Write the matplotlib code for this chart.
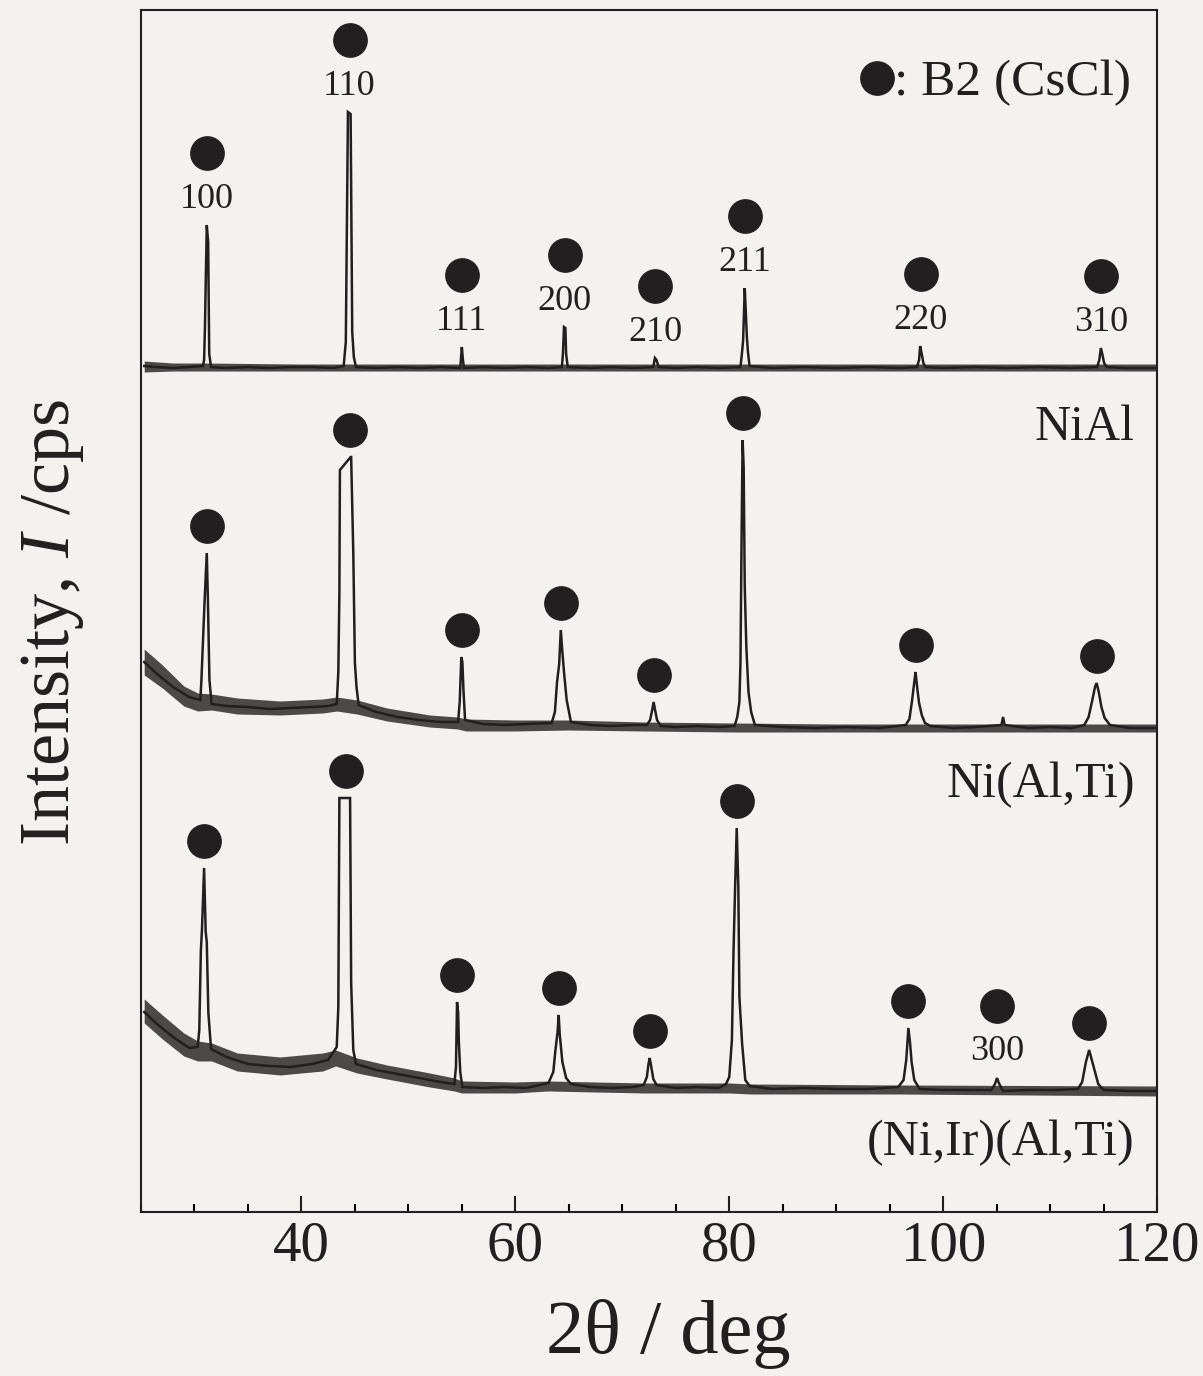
import numpy as np
import matplotlib
matplotlib.use("Agg")
import matplotlib.pyplot as plt
from matplotlib.ticker import MultipleLocator

plt.rcParams["font.family"] = "Liberation Serif"
plt.rcParams["mathtext.fontset"] = "custom"
plt.rcParams["mathtext.rm"] = "Liberation Serif"
plt.rcParams["mathtext.it"] = "Liberation Serif:italic"

# XRD traces, (2theta, intensity) with the patterns stacked on one shared axis
nial_trace = [
    (25.3, 846), (26.5, 845), (28.0, 844), (29.5, 845), (30.8, 846), (30.9, 852),
    (30.98, 885), (31.15, 987), (31.28, 970), (31.38, 858), (31.55, 845),
    (33.0, 844), (35.0, 845), (37.0, 844), (39.0, 845), (41.0, 845), (43.0, 844),
    (43.95, 846), (44.15, 870), (44.35, 1100), (44.6, 1098), (44.75, 880),
    (44.9, 855), (45.1, 845), (47.0, 844), (49.0, 845), (51.0, 844), (53.0, 845),
    (54.85, 844), (54.95, 858), (55.0, 865), (55.1, 852), (55.2, 844),
    (57.0, 845), (59.0, 844), (61.0, 845), (63.0, 844), (64.35, 845),
    (64.45, 858), (64.55, 885), (64.68, 884), (64.75, 858), (64.9, 845),
    (67.0, 844), (69.0, 845), (71.0, 844), (72.9, 845), (73.05, 854),
    (73.2, 852), (73.4, 845), (75.0, 844), (77.0, 845), (79.0, 844),
    (81.05, 845), (81.2, 860), (81.3, 872), (81.45, 924), (81.55, 900),
    (81.65, 875), (81.75, 860), (81.9, 846), (84.0, 844), (87.0, 845),
    (90.0, 844), (93.0, 845), (96.0, 844), (97.55, 845), (97.75, 852),
    (97.85, 866), (98.0, 858), (98.15, 849), (98.35, 845), (100.0, 844),
    (103.0, 845), (106.0, 844), (109.0, 845), (112.0, 844), (114.4, 845),
    (114.6, 852), (114.75, 864), (114.9, 857), (115.05, 849), (115.3, 845),
    (117.0, 844), (120.0, 844),
]

niat_trace = [
    (25.3, 550), (26.5, 538), (28.0, 525), (29.5, 515), (30.55, 512),
    (30.65, 532), (30.95, 612), (31.15, 659), (31.25, 615), (31.4, 532),
    (31.6, 508), (33.0, 506), (35.0, 505), (37.0, 503), (39.0, 504),
    (41.0, 505), (42.5, 506), (43.3, 508), (43.45, 540), (43.55, 620),
    (43.6, 742), (44.6, 755), (44.65, 755), (44.85, 659), (45.0, 549),
    (45.15, 525), (45.35, 507), (47.0, 500), (49.0, 495), (51.0, 492),
    (53.0, 490), (54.65, 490), (54.8, 510), (54.95, 555), (55.05, 550),
    (55.15, 522), (55.3, 492), (57.0, 488), (59.0, 487), (61.0, 488),
    (63.4, 489), (63.7, 500), (63.9, 530), (64.1, 548), (64.25, 582),
    (64.4, 560), (64.55, 540), (64.8, 512), (65.2, 490), (67.0, 487),
    (69.0, 486), (71.0, 487), (72.3, 487), (72.6, 492), (72.8, 502),
    (72.93, 510), (73.05, 503), (73.25, 492), (73.6, 486), (75.0, 485),
    (77.0, 486), (79.0, 485), (80.5, 486), (80.75, 495), (80.95, 510),
    (81.05, 549), (81.15, 669), (81.25, 772), (81.35, 745), (81.45, 625),
    (81.6, 565), (81.8, 520), (82.05, 500), (82.4, 487), (85.0, 485),
    (88.0, 484), (91.0, 485), (94.0, 484), (96.5, 487), (96.85, 493),
    (97.1, 512), (97.3, 530), (97.42, 540), (97.6, 522), (97.75, 509),
    (98.0, 497), (98.3, 489), (98.8, 486), (101.0, 484), (103.0, 485),
    (105.45, 487), (105.6, 495), (105.75, 487), (108.0, 484), (110.0, 485),
    (112.0, 484), (113.2, 487), (113.6, 495), (113.95, 512), (114.2, 525),
    (114.35, 529), (114.55, 520), (114.8, 505), (115.1, 494), (115.6, 487),
    (117.5, 484), (120.0, 484),
]

niirat_trace = [
    (25.3, 200), (26.5, 188), (28.0, 175), (29.5, 164), (30.3, 165),
    (30.45, 182), (30.6, 262), (30.7, 282), (30.9, 344), (31.05, 280),
    (31.15, 270), (31.3, 199), (31.55, 163), (33.0, 155), (35.0, 148),
    (37.0, 146), (39.0, 145), (41.0, 148), (42.5, 152), (43.3, 165),
    (43.45, 205), (43.55, 414), (44.55, 414), (44.65, 229), (44.85, 162),
    (45.1, 148), (47.0, 142), (49.0, 138), (51.0, 134), (53.0, 130),
    (54.3, 128), (54.45, 145), (54.55, 210), (54.65, 200), (54.72, 170),
    (54.85, 140), (55.05, 125), (57.0, 124), (59.0, 125), (61.0, 124),
    (63.1, 129), (63.55, 140), (63.75, 162), (63.95, 180), (64.05, 197),
    (64.15, 178), (64.4, 150), (64.75, 134), (65.2, 128), (67.0, 125),
    (69.0, 124), (71.0, 125), (72.0, 127), (72.3, 135), (72.45, 148),
    (72.56, 154), (72.7, 146), (72.9, 133), (73.2, 127), (75.0, 124),
    (77.0, 125), (79.0, 124), (79.7, 128), (80.0, 135), (80.25, 172),
    (80.4, 260), (80.55, 325), (80.7, 384), (80.85, 325), (80.95, 215),
    (81.2, 169), (81.5, 132), (81.9, 126), (84.0, 123), (87.0, 124),
    (90.0, 123), (93.0, 123), (95.8, 125), (96.3, 132), (96.55, 152),
    (96.75, 184), (96.9, 170), (97.05, 150), (97.3, 132), (97.8, 123),
    (100.0, 122), (102.5, 122), (104.5, 122), (104.85, 128), (105.03, 134),
    (105.25, 128), (105.6, 121), (108.0, 122), (110.5, 122), (112.6, 123),
    (113.0, 130), (113.35, 150), (113.65, 162), (113.9, 152), (114.2, 140),
    (114.5, 128), (115.0, 122), (117.5, 121), (120.0, 121),
]

# counting-noise envelope of each background: (2theta, low, high)
nial_noise = [
    (25.3, 840, 851), (28.0, 841, 849), (31.0, 841, 849), (40.0, 841, 848),
    (60.0, 841, 848), (80.0, 841, 848), (100.0, 841, 848), (120.0, 841, 848),
]
niat_noise = [
    (25.3, 537, 563), (27.0, 524, 547), (29.0, 506, 526), (30.3, 501, 519),
    (31.6, 502, 518), (34.0, 498, 514), (38.0, 497, 511), (42.0, 499, 513),
    (43.3, 501, 515), (45.2, 498, 512), (48.0, 491, 504), (52.0, 485, 497),
    (54.6, 483, 495), (55.4, 481, 493), (60.0, 481, 492), (65.0, 482, 492),
    (72.0, 481, 490), (80.5, 480, 489), (90.0, 480, 488), (100.0, 480, 488),
    (110.0, 480, 488), (120.0, 480, 488),
]
niirat_noise = [
    (25.3, 189, 213), (27.0, 173, 197), (29.0, 156, 179), (30.3, 151, 171),
    (31.6, 151, 169), (34.0, 141, 159), (38.0, 137, 155), (42.0, 141, 159),
    (43.2, 146, 162), (45.2, 139, 154), (48.0, 133, 147), (52.0, 125, 139),
    (54.3, 121, 134), (55.0, 119, 131), (60.0, 119, 130), (63.0, 121, 131),
    (72.0, 119, 129), (80.0, 119, 129), (82.0, 118, 128), (95.8, 118, 127),
    (120.0, 116, 126),
]

# B2 reflections marked on each pattern
nial_peaks = [31.2, 44.5, 55.0, 64.6, 73.1, 81.45, 97.9, 114.75]
nial_hkl = ["100", "110", "111", "200", "210", "211", "220", "310"]
niat_peaks = [31.15, 44.5, 55.0, 64.25, 72.93, 81.25, 97.42, 114.35]
niat_hkl = ["", "", "", "", "", "", "", ""]
niirat_peaks = [30.9, 44.2, 54.55, 64.05, 72.56, 80.7, 96.75, 105.03, 113.65]
niirat_hkl = ["", "", "", "", "", "", "", "300", ""]

sample_names = ["NiAl", "Ni(Al,Ti)", "(Ni,Ir)(Al,Ti)"]

ink = "#231f20"
paper = "#f3f2ef"

fig = plt.figure(figsize=(12.03, 13.76), dpi=100, facecolor=paper)
ax = fig.add_axes([0.1172, 0.1192, 0.8446, 0.8735], facecolor=paper)

patterns = [
    (nial_trace, nial_noise, nial_peaks, nial_hkl),
    (niat_trace, niat_noise, niat_peaks, niat_hkl),
    (niirat_trace, niirat_noise, niirat_peaks, niirat_hkl),
]

for trace, noise, peaks, hkl in patterns:
    tt, counts = np.array(trace).T
    nx, lo, hi = np.array(noise).T
    ax.fill_between(nx, lo, hi, color=ink, lw=0, alpha=0.8, zorder=2)
    ax.plot(tt, counts, color=ink, lw=1.8, solid_joinstyle="miter", zorder=3)
    for pos, label in zip(peaks, hkl):
        near = np.abs(tt - pos) < 0.45
        top = counts[near].max()
        if label:
            ax.text(pos, top + 26, label, ha="center", va="center",
                    fontsize=26, color=ink)
            ax.plot(pos, top + 72, "o", ms=24, color=ink, mec=ink)
        else:
            ax.plot(pos, top + 27, "o", ms=24, color=ink, mec=ink)

# legend for the reflection symbol
ax.plot(0.7245, 0.9435, "o", ms=24, color=ink, transform=ax.transAxes)
ax.text(0.7415, 0.929, ": B2 (CsCl)", transform=ax.transAxes, fontsize=37,
        color=ink, ha="left", va="baseline")

for name, ybase in zip(sample_names, [0.642, 0.345, 0.0474]):
    ax.text(0.978, ybase, name, transform=ax.transAxes, fontsize=36,
            color=ink, ha="right", va="baseline")

ax.set_xlim(25, 120)
ax.set_ylim(0, 1202)
ax.xaxis.set_major_locator(MultipleLocator(20))
ax.xaxis.set_minor_locator(MultipleLocator(5))
ax.tick_params(axis="x", which="major", direction="in", length=11.5, width=1.5,
               labelsize=41, pad=6, colors=ink, top=False)
ax.tick_params(axis="x", which="minor", direction="in", length=5.8, width=1.5,
               top=False)
ax.tick_params(axis="y", left=False, right=False, labelleft=False)
for spine in ax.spines.values():
    spine.set_linewidth(1.5)
    spine.set_color(ink)

ax.set_xlabel("2θ / deg", fontsize=55, color=ink)
ax.xaxis.set_label_coords(0.519, -0.072)
ax.set_ylabel("Intensity, $I$ /cps", fontsize=52, color=ink)
ax.yaxis.set_label_coords(-0.054, 0.49)

fig.savefig("out.png", dpi=100, facecolor=paper)
